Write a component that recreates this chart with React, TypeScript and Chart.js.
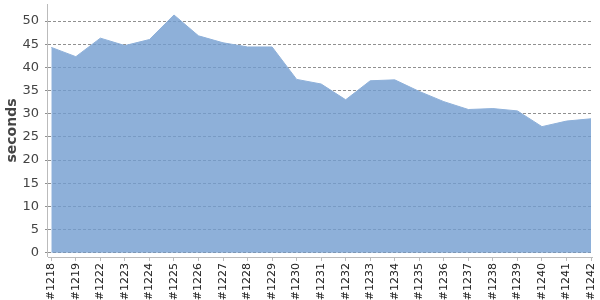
import React, { useEffect, useRef } from "react";
import { Chart, registerables } from "chart.js";

Chart.register(...registerables);

const builds: string[] = [
  "#1218", "#1219", "#1222", "#1223", "#1224", "#1225", "#1226", "#1227",
  "#1228", "#1229", "#1230", "#1231", "#1232", "#1233", "#1234", "#1235",
  "#1236", "#1237", "#1238", "#1239", "#1240", "#1241", "#1242",
];

const durations: number[] = [
  44.3, 42.3, 46.3, 44.7, 46.0, 51.3, 46.8, 45.3, 44.4, 44.4, 37.4, 36.4,
  33.0, 37.1, 37.3, 34.8, 32.6, 30.9, 31.1, 30.6, 27.2, 28.4, 28.9,
];

const yTicks: number[] = [0, 5, 10, 15, 20, 25, 30, 35, 40, 45, 50];

const axisLinePlugin = {
  id: "axisLine",
  afterDraw(chart: any) {
    const { ctx, chartArea } = chart;
    ctx.save();
    ctx.strokeStyle = "#bbb";
    ctx.lineWidth = 1;
    ctx.setLineDash([]);
    ctx.beginPath();
    ctx.moveTo(chartArea.left - 0.5, chartArea.top);
    ctx.lineTo(chartArea.left - 0.5, chartArea.bottom);
    ctx.stroke();
    ctx.restore();
  },
};

export default function App() {
  const canvasRef = useRef<HTMLCanvasElement | null>(null);

  useEffect(() => {
    document.body.style.margin = "0";
    const canvas = canvasRef.current;
    if (!canvas) return;
    const font = "'DejaVu Sans', Verdana, sans-serif";
    const chart = new Chart(canvas, {
      type: "line",
      plugins: [axisLinePlugin],
      data: {
        datasets: [
          {
            label: "seconds",
            data: durations.map((v, i) => ({ x: i, y: v })),
            fill: "origin",
            backgroundColor: "rgba(114,156,208,0.8)",
            borderColor: "rgba(142,176,217,1)",
            borderWidth: 1,
            pointRadius: 0,
            tension: 0,
          },
        ],
      },
      options: {
        responsive: false,
        animation: false,
        maintainAspectRatio: false,
        layout: { padding: { top: 4, right: 8, left: 0, bottom: 0 } },
        plugins: { legend: { display: false }, tooltip: { enabled: false } },
        scales: {
          x: {
            type: "linear",
            min: -0.135,
            max: 22.04,
            afterFit: (scale: any) => {
              scale.height = 43;
              scale.paddingLeft = 0;
              scale.paddingRight = 0;
            },
            afterBuildTicks: (scale: any) => {
              scale.ticks = builds.map((_, i) => ({ value: i }));
            },
            ticks: {
              autoSkip: false,
              maxRotation: 90,
              minRotation: 90,
              padding: 2,
              color: "#222",
              font: { family: font, size: 11 },
              callback: (v: any) => builds[Math.round(Number(v))] ?? "",
            },
            grid: {
              drawOnChartArea: false,
              drawTicks: true,
              tickLength: 4,
              color: "#bbb",
            },
            border: { display: true, color: "#bbb", width: 1 },
          },
          y: {
            type: "linear",
            min: -0.93,
            max: 53.67,
            afterFit: (scale: any) => {
              scale.width = 48;
              scale.paddingTop = 0;
              scale.paddingBottom = 0;
            },
            afterBuildTicks: (scale: any) => {
              scale.ticks = yTicks.map((v) => ({ value: v }));
            },
            ticks: {
              color: "#444",
              padding: 6,
              font: { family: font, size: 13 },
            },
            title: {
              display: true,
              text: "seconds",
              color: "#444",
              padding: { top: 4, bottom: 0 },
              font: { family: font, size: 14, weight: "bold" },
            },
            grid: {
              color: "#909090",
              drawTicks: true,
              tickLength: 3,
              tickColor: "#909090",
            },
            border: { display: false, dash: [3, 2] },
          },
        },
      } as any,
    });
    return () => chart.destroy();
  }, []);

  return (
    <div style={{ width: 600, height: 300 }}>
      <canvas ref={canvasRef} width={600} height={300} />
    </div>
  );
}
